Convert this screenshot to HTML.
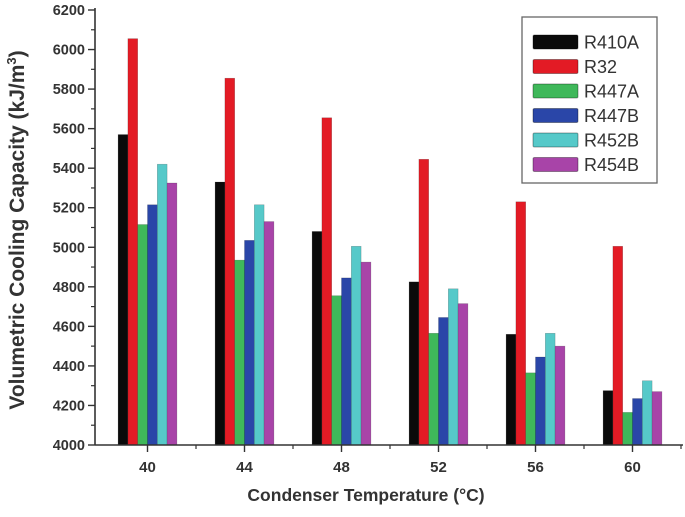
<!DOCTYPE html>
<html><head><meta charset="utf-8"><style>
body{margin:0;background:#fff}
svg{display:block;font-family:"Liberation Sans",Arial,sans-serif}
</style></head><body>
<svg id="chart" width="685" height="517" viewBox="0 0 685 517"></svg>
<script>
const categories = ["40","44","48","52","56","60"];
const seriesNames = ["R410A","R32","R447A","R447B","R452B","R454B"];
const seriesColors = ["#0a0a0a","#e31b25","#3fb85a","#2a46a8","#56c9c9","#a844a8"];
const sR410A = [5570,5330,5080,4825,4560,4275];
const sR32   = [6055,5855,5655,5445,5230,5005];
const sR447A = [5115,4935,4755,4565,4365,4165];
const sR447B = [5215,5035,4845,4645,4445,4235];
const sR452B = [5420,5215,5005,4790,4565,4325];
const sR454B = [5325,5130,4925,4715,4500,4270];
const yTicks = [4000,4200,4400,4600,4800,5000,5200,5400,5600,5800,6000,6200];

const series=[sR410A,sR32,sR447A,sR447B,sR452B,sR454B];
const svg=document.getElementById('chart');
const NS='http://www.w3.org/2000/svg';
function mk(t,a,p){const e=document.createElementNS(NS,t);for(const k in a)e.setAttribute(k,a[k]);(p||svg).appendChild(e);return e;}
const x0=95,y0=445,yTop=10,yMin=4000,yMax=6200;
function yS(v){return y0-(v-yMin)/(yMax-yMin)*(y0-yTop);}
const c0=147.5,cStep=97;
function xS(i){return c0+i*cStep;}
const bw=9.8;
series.forEach((s,si)=>{
  s.forEach((v,ci)=>{
    const x=xS(ci)-3*bw+si*bw;
    const r=mk('rect',{x:x,y:yS(v),width:bw,height:y0-yS(v),fill:seriesColors[si],stroke:'rgba(0,0,0,0.25)','stroke-width':0.6});
    
    
  });
});
const ya=mk('line',{x1:x0,y1:yTop-2,x2:x0,y2:y0,stroke:'#333','stroke-width':1.6});

yTicks.forEach((t,i)=>{
  const y=yS(t);
  mk('line',{x1:x0-7,y1:y,x2:x0,y2:y,stroke:'#333','stroke-width':1.4});
  if(i<yTicks.length-1){const ym=yS(t+100);mk('line',{x1:x0-4,y1:ym,x2:x0,y2:ym,stroke:'#333','stroke-width':1.2});}
  const tx=mk('text',{x:x0-10,y:y+5,'text-anchor':'end','font-size':14.5,'font-weight':'bold',fill:'#333'});
  tx.textContent=t;
  
});
const xa=mk('line',{x1:x0,y1:y0,x2:683,y2:y0,stroke:'#333','stroke-width':1.6});

categories.forEach((c,i)=>{
  const x=xS(i);
  mk('line',{x1:x,y1:y0,x2:x,y2:y0+7,stroke:'#333','stroke-width':1.4});
  const xm=x+cStep/2; if(xm<684) mk('line',{x1:xm,y1:y0,x2:xm,y2:y0+4,stroke:'#333','stroke-width':1.2});
  const tx=mk('text',{x:x,y:y0+27,'text-anchor':'middle','font-size':15,'font-weight':'bold',fill:'#333'});
  tx.textContent=c;
  
});
const xt=mk('text',{x:366,y:501,'text-anchor':'middle','font-size':17.5,'font-weight':'bold',fill:'#333'});
xt.textContent='Condenser Temperature (°C)';

const yt=mk('text',{x:0,y:0,'text-anchor':'middle','font-size':21,'font-weight':'bold',fill:'#333',transform:'translate(24,230) rotate(-90)'});
yt.innerHTML='Volumetric Cooling Capacity (kJ/m<tspan font-size="13" dy="-8">3</tspan><tspan dy="8">)</tspan>';

const lg=mk('g',{});

mk('rect',{x:522,y:17,width:135,height:166,fill:'#fff',stroke:'#666','stroke-width':1.3},lg);
seriesNames.forEach((n,i)=>{
  const y=35+i*24.5;
  const g=mk('g',{},lg);
  
  mk('rect',{x:533,y:y,width:45,height:14,rx:1.5,fill:seriesColors[i],stroke:'rgba(0,0,0,0.35)','stroke-width':1},g);
  const t=mk('text',{x:584,y:y+13.5,'font-size':18,fill:'#333'},g);
  t.textContent=n;
});
</script>
</body></html>
